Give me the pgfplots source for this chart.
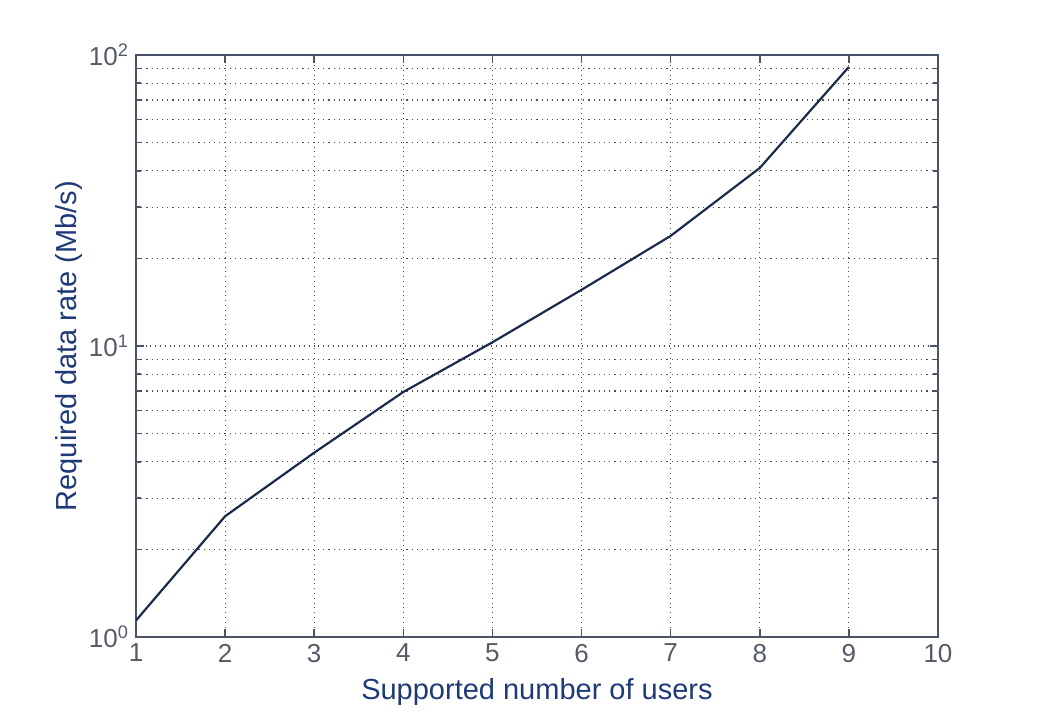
\documentclass[border=0pt]{standalone}
\usepackage{pgfplots}
\pgfplotsset{compat=1.18}
\usepackage{fontspec}
\setmainfont{Liberation Sans}
\definecolor{axcol}{HTML}{4A5468}
\definecolor{labcol}{HTML}{1F3A78}
\definecolor{tickcol}{HTML}{555B66}
\definecolor{linecol}{HTML}{1A2B4C}
\begin{document}
\begin{tikzpicture}
\begin{axis}[
  scale only axis,
  width=401pt, height=291pt,
  xmin=1, xmax=10, ymin=1, ymax=100,
  ymode=log,
  xtick={1,...,10},
  ytick={1,10,100},
  yticklabels={10\textsuperscript{0},10\textsuperscript{1},10\textsuperscript{2}},
  minor ytick={2,3,4,5,6,7,8,9,20,30,40,50,60,70,80,90},
  axis line style={axcol, line width=0.9pt},
  tick style={axcol, line width=0.8pt},
  tick align=inside,
  major tick length=4pt,
  minor tick length=2.5pt,
  xmajorgrids, ymajorgrids, yminorgrids,
  grid style={dotted, gray!60!black, line width=0.6pt},
  minor grid style={dotted, gray!60!black, line width=0.6pt},
  ticklabel style={font=\fontsize{13}{15}\selectfont, text=tickcol},
  /pgf/number format/assume math mode=true,
  xlabel={Supported number of users},
  ylabel={Required data rate (Mb/s)},
  label style={font=\fontsize{14.5}{16}\selectfont, text=labcol},
  xlabel style={yshift=-1pt},
  ylabel style={yshift=-3.5pt},
]
\addplot[linecol, line width=1.1pt] coordinates {
(1,1.14) (2,2.6) (3,4.3) (4,6.95) (5,10.3) (6,15.6) (7,23.9) (8,40.9) (9,91)
};
\end{axis}
\path ([xshift=-68pt,yshift=-40.5pt]current axis.south west) rectangle ([xshift=50.5pt,yshift=27.5pt]current axis.north east);
\end{tikzpicture}
\end{document}
